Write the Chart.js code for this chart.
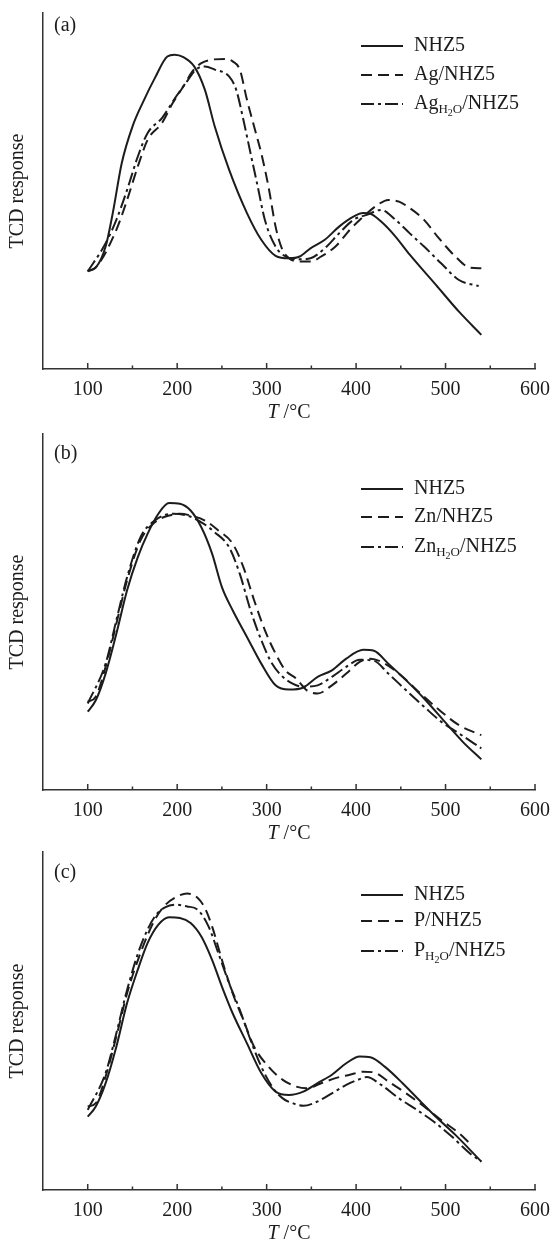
<!DOCTYPE html>
<html>
<head>
<meta charset="UTF-8">
<script src="https://cdn.jsdelivr.net/npm/chart.js"></script>
<title>TPD profiles</title>
<style>
  body { margin: 0; background: #fff; }
  #wrap { position: relative; width: 554px; height: 1244px; }
  canvas { position: absolute; left: 0; }
</style>
</head>
<body>
<div id="wrap">
  <canvas id="pa" width="554" height="425" style="top:0"></canvas>
  <canvas id="pb" width="554" height="415" style="top:425px"></canvas>
  <canvas id="pc" width="554" height="404" style="top:840px"></canvas>
</div>
<script>
// tick labels
const xMajor = [100, 200, 300, 400, 500, 600];
const xMinor = [150, 250, 350, 450, 550];

// (a) Ag series
const aNHZ5T = [100,109,120,128,138,150,163,175,189,197,207,219,231,242,258,278,294,310,325,337,349,365,381,397,408,416,428,444,460,491,515,540];
const aNHZ5  = [27.6,28.5,34.4,43.8,57.8,68.1,75.6,81.7,87.8,88.3,87.6,85.0,78.4,68.1,56.0,43.8,36.3,31.8,31.1,31.6,33.9,36.3,40.0,42.8,43.8,43.6,41.4,37.2,32.1,23.1,16.1,9.6];
const aAgT   = [100,110,132,144,156,167,183,195,207,217,227,239,254,262,270,278,286,294,302,310,317,325,337,349,361,377,393,408,424,436,448,460,476,491,511,527,540];
const aAg    = [27.4,28.8,39.1,47.5,56.9,64.4,69.1,74.7,79.4,83.6,85.9,86.9,87.1,86.4,84.1,75.6,68.1,60.6,51.3,40.0,33.9,31.1,30.2,30.2,31.6,34.4,39.1,42.8,46.1,47.5,47.0,45.2,41.9,37.2,31.6,28.5,28.3];
const aAgWT  = [100,120,132,144,156,167,183,199,211,221,231,242,258,266,274,282,290,298,310,321,337,349,365,381,397,412,428,444,460,476,495,515,537];
const aAgW   = [27.4,35.3,41.9,50.3,59.7,66.3,70.5,76.6,80.8,84.1,85.0,84.1,82.2,78.4,70.0,60.6,51.3,41.9,34.4,31.6,30.8,31.1,33.9,38.1,41.9,43.3,44.7,41.9,38.1,34.4,29.7,25.0,23.3];

// (b) Zn series
const bNHZ5T = [100,109,120,132,144,156,167,179,191,203,215,227,239,250,262,278,294,310,325,341,357,373,389,408,420,436,456,476,499,519,540];
const bNHZ5  = [22.0,25.2,32.7,43.9,56.1,65.4,72.0,77.6,80.6,80.4,78.5,73.8,66.4,57.0,50.5,43.0,35.5,29.4,28.2,28.8,31.8,33.6,36.9,39.4,39.1,35.5,30.8,25.7,19.2,13.6,8.6];
const bZnT   = [100,109,120,132,144,159,175,191,203,215,231,246,262,274,286,298,310,321,333,345,357,373,389,404,416,432,452,472,491,515,540];
const bZn    = [24.8,26.2,34.6,46.7,58.9,70.1,75.2,77.1,77.6,77.1,75.7,72.9,69.2,62.6,53.3,44.9,38.3,33.6,31.3,28.0,27.1,29.4,32.7,36.0,36.9,35.5,31.8,27.1,22.9,18.2,15.4];
const bZnWT  = [100,120,132,144,159,175,195,211,227,242,258,270,282,294,306,318,329,341,357,373,389,404,420,436,456,476,495,515,540];
const bZnW   = [24.3,35.5,47.7,59.8,71.0,75.7,77.6,77.1,75.2,72.4,68.2,60.7,50.5,42.1,35.5,31.8,29.9,29.0,29.4,31.8,34.6,36.6,36.3,32.7,28.0,23.4,19.2,15.9,11.7];

// (c) P series
const cNHZ5T = [100,109,120,132,144,156,167,179,191,203,215,227,239,250,262,278,294,310,325,341,357,373,389,404,416,432,452,472,491,511,540];
const cNHZ5  = [21.7,24.7,31.6,42.4,55.3,65.2,73.1,78.5,80.7,80.5,79.0,75.0,68.1,60.2,52.3,43.4,34.6,29.1,28.1,29.1,31.6,34.1,37.5,39.5,39.3,36.5,31.6,26.2,21.2,16.3,8.4];
const cPT    = [100,109,120,132,144,159,175,187,199,211,223,231,239,250,262,274,286,302,318,333,345,361,377,393,408,420,436,456,476,495,515,529];
const cP     = [24.7,25.7,33.6,45.4,58.2,70.1,80.0,84.4,86.7,87.7,86.4,83.4,78.0,68.1,58.2,50.3,42.4,36.5,32.6,30.6,30.1,31.6,33.1,34.1,35.0,34.8,32.1,28.6,24.7,20.7,16.8,13.3];
const cPWT   = [100,120,132,144,159,175,187,199,211,223,235,246,258,270,282,294,306,318,329,341,357,373,389,404,412,428,448,468,487,507,527,540];
const cPW    = [23.7,34.6,46.4,59.2,72.1,80.9,83.7,84.4,83.9,82.9,78.0,70.1,61.2,53.3,44.4,36.5,30.6,27.1,25.7,24.9,26.2,28.6,31.1,32.8,33.4,31.1,27.1,23.7,20.2,15.8,10.9,8.4];

const INK = '#1c1c1c';
const AXIS = '#333';
const FONT = '"Liberation Serif", "Times New Roman", serif';
const DASH = [11, 6];
const DASHDOT = [13, 4, 3, 4];

function pts(xs, ys) {
  return xs.map((t, i) => ({ x: t, y: ys[i] }));
}

// legend label, optional H2O subscript on the metal
function label(metal, wet) {
  if (!metal) return [{ t: 'NHZ5' }];
  if (!wet) return [{ t: metal + '/NHZ5' }];
  return [{ t: metal }, { t: 'H', s: 1 }, { t: '2', s: 2 }, { t: 'O', s: 1 }, { t: '/NHZ5' }];
}

function drawRich(ctx, parts, x, y) {
  parts.forEach(p => {
    let size = 20, dy = 0;
    if (p.s === 1) { size = 13; dy = 6; }
    if (p.s === 2) { size = 10; dy = 9; }
    ctx.font = size + 'px ' + FONT;
    ctx.fillText(p.t, x, y + dy);
    x += ctx.measureText(p.t).width;
  });
}

const decor = {
  id: 'decor',
  afterDraw(chart, args, o) {
    const ctx = chart.ctx;
    const xs = chart.scales.x, ys = chart.scales.y;
    const base = ys.getPixelForValue(0);
    ctx.save();
    // inward tick marks
    ctx.strokeStyle = AXIS;
    ctx.lineWidth = 1.5;
    ctx.beginPath();
    xMajor.forEach(v => { const p = xs.getPixelForValue(v); ctx.moveTo(p, base); ctx.lineTo(p, base - 6); });
    xMinor.forEach(v => { const p = xs.getPixelForValue(v); ctx.moveTo(p, base); ctx.lineTo(p, base - 3.5); });
    ctx.stroke();

    ctx.fillStyle = INK;
    ctx.textBaseline = 'middle';
    ctx.textAlign = 'left';
    ctx.font = '20px ' + FONT;
    ctx.fillText(o.tag, 54, o.tagY);

    // axis title: italic T
    const cx = (xs.left + xs.right) / 2, ty = base + 44;
    ctx.font = 'italic 20px ' + FONT;
    const w1 = ctx.measureText('T').width;
    ctx.font = '20px ' + FONT;
    const w2 = ctx.measureText(' /°C').width;
    const sx = cx - (w1 + w2) / 2;
    ctx.font = 'italic 20px ' + FONT;
    ctx.fillText('T', sx, ty);
    ctx.font = '20px ' + FONT;
    ctx.fillText(' /°C', sx + w1, ty);

    // legend
    chart.data.datasets.forEach((ds, i) => {
      const ly = o.legendY[i];
      ctx.strokeStyle = INK;
      ctx.lineWidth = 2;
      ctx.setLineDash(ds.borderDash || []);
      ctx.beginPath();
      ctx.moveTo(361, ly);
      ctx.lineTo(403, ly);
      ctx.stroke();
      ctx.setLineDash([]);
      drawRich(ctx, o.labels[i], 414, ly);
    });
    ctx.restore();
  }
};

function makePanel(id, series, cfg) {
  const styles = [[], DASH, DASHDOT];
  new Chart(document.getElementById(id).getContext('2d'), {
    type: 'line',
    data: {
      datasets: series.map((s, i) => ({
        data: pts(s[0], s[1]),
        borderColor: INK,
        borderWidth: 2,
        borderDash: styles[i],
        pointRadius: 0,
        fill: false,
        cubicInterpolationMode: 'monotone'
      }))
    },
    options: {
      responsive: false,
      animation: false,
      events: [],
      layout: { padding: { top: cfg.top, right: 19, left: 0, bottom: 0 } },
      plugins: {
        legend: { display: false },
        tooltip: { enabled: false },
        decor: cfg
      },
      scales: {
        x: {
          type: 'linear',
          min: 50,
          max: 600,
          afterBuildTicks: s => { s.ticks = xMajor.map(v => ({ value: v })); },
          afterFit: s => { s.height = cfg.xh; },
          grid: { display: false },
          border: { display: true, color: AXIS, width: 1.5 },
          ticks: { color: INK, font: { family: FONT, size: 20 }, padding: 1, maxRotation: 0, autoSkip: false }
        },
        y: {
          min: 0,
          max: 100,
          afterFit: s => { s.width = 43; },
          grid: { display: false },
          border: { display: true, color: AXIS, width: 1.5 },
          ticks: { display: false },
          title: { display: true, text: 'TCD response', color: INK, font: { family: FONT, size: 20 }, padding: { top: 6, bottom: 0 } }
        }
      }
    },
    plugins: [decor]
  });
}

makePanel('pa', [[aNHZ5T, aNHZ5], [aAgT, aAg], [aAgWT, aAgW]], {
  top: 13, xh: 56, tag: '(a)', tagY: 26, legendY: [46, 75, 104],
  labels: [label(), label('Ag'), label('Ag', true)]
});
makePanel('pb', [[bNHZ5T, bNHZ5], [bZnT, bZn], [bZnWT, bZnW]], {
  top: 9, xh: 50, tag: '(b)', tagY: 29, legendY: [64, 92, 122],
  labels: [label(), label('Zn'), label('Zn', true)]
});
makePanel('pc', [[cNHZ5T, cNHZ5], [cPT, cP], [cPWT, cPW]], {
  top: 12, xh: 54, tag: '(c)', tagY: 33, legendY: [55, 81, 111],
  labels: [label(), label('P'), label('P', true)]
});
</script>
</body>
</html>
